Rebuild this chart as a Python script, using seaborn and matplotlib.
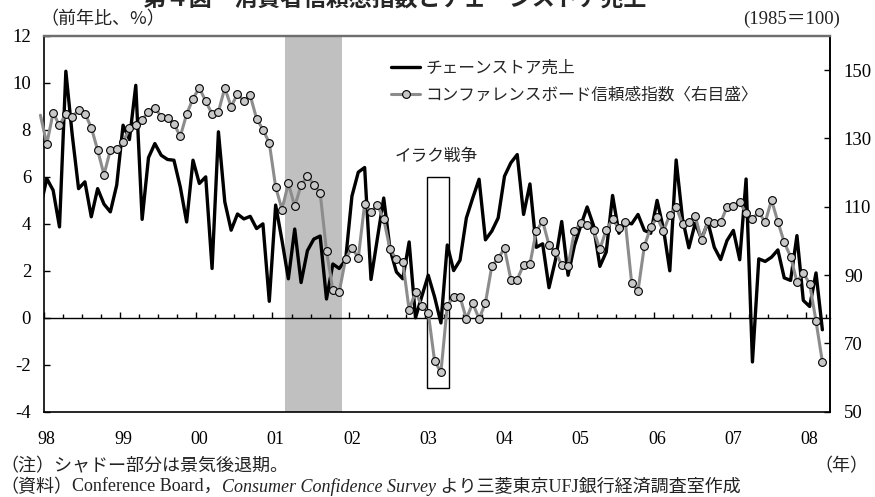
import numpy as np
import pandas as pd
import matplotlib
matplotlib.use("Agg")
import matplotlib.pyplot as plt
import seaborn as sns
from matplotlib.patches import Rectangle
from matplotlib.lines import Line2D

# ---------------- data ----------------
months = pd.period_range("1997-12", "2008-03", freq="M")
year_labels = ["98", "99", "00", "01", "02", "03", "04", "05", "06", "07", "08"]

# チェーンストア売上（前年比、%）
chain_store = [4.7,
    5.93, 5.43, 3.87, 10.5, 7.8, 5.5, 5.79, 4.3, 5.5, 4.84, 4.51, 5.65,
    8.2, 7.59, 9.9, 4.19, 6.82, 7.42, 6.92, 6.74, 6.71, 5.57, 4.08, 6.71,
    5.72, 6.0, 2.1, 7.92, 4.94, 3.73, 4.42, 4.21, 4.32, 3.8, 4.0, 0.7,
    4.8, 3.29, 1.66, 3.78, 1.5, 2.86, 3.35, 3.48, 0.8, 2.29, 2.1, 2.45,
    5.18, 6.2, 6.4, 1.63, 3.37, 5.1, 2.91, 1.95, 1.66, 3.23, 0.0, 0.92,
    1.81, 0.89, -0.22, 3.1, 2.01, 2.45, 4.25, 5.1, 5.9, 3.32, 3.69, 4.25,
    6.03, 6.6, 6.95, 4.4, 5.7, 3.0, 3.15, 1.28, 2.44, 4.1, 1.81, 3.08,
    3.93, 4.72, 3.93, 2.19, 2.8, 5.21, 3.6, 4.07, 4.0, 4.4, 3.72, 3.6,
    5.0, 3.79, 2.0, 6.72, 4.21, 2.98, 4.03, 3.36, 4.07, 3.0, 2.48, 3.29,
    3.72, 2.47, 5.91, -1.88, 2.51, 2.4, 2.58, 2.89, 1.7, 1.59, 3.5, 0.74,
    0.48, 1.91, -0.51]

# コンファレンスボード信頼感指数（1985=100、右目盛）
confidence = [136.8,
    128.4, 137.5, 133.8, 137.3, 136.3, 138.3, 137.3, 133.2, 126.6, 119.4, 126.6, 126.9,
    128.9, 133.0, 134.0, 135.5, 137.8, 139.0, 136.4, 136.0, 134.3, 130.6, 137.1, 141.7,
    144.8, 140.9, 137.2, 137.8, 144.8, 139.3, 143.1, 140.9, 142.6, 135.8, 132.6, 128.7,
    115.8, 109.2, 116.9, 110.1, 116.3, 119.0, 116.5, 114.1, 97.1, 85.6, 85.1, 94.7,
    98.0, 95.1, 110.8, 108.5, 110.5, 106.4, 97.5, 94.7, 93.8, 79.8, 85.1, 80.9,
    79.0, 64.9, 61.6, 81.0, 83.7, 83.6, 77.2, 81.8, 77.2, 81.8, 92.6, 94.9,
    97.8, 88.7, 88.7, 93.0, 93.2, 102.9, 105.8, 98.8, 96.9, 92.9, 92.6, 102.9,
    105.3, 104.8, 103.2, 97.6, 103.2, 106.3, 103.7, 105.6, 87.7, 85.4, 98.5, 104.0,
    106.9, 102.9, 107.6, 110.0, 104.9, 105.4, 107.3, 100.2, 105.9, 105.3, 105.4, 110.0,
    110.2, 111.3, 108.2, 106.4, 108.5, 105.4, 112.0, 105.6, 99.6, 95.4, 88.0, 90.7,
    87.4, 76.5, 64.6]

recession = ("2001-03", "2001-11")
iraq_war = ("2003-01", "2003-05")

label_chain = "チェーンストア売上"
label_conf = "コンファレンスボード信頼感指数〈右目盛〉"

# ---------------- helpers ----------------
def mpos(p):
    p = pd.Period(p, freq="M")
    return (p.year - 1998) * 12 + (p.month - 1)

df = pd.DataFrame({
    "pos": [mpos(m) + 0.5 for m in months],
    "chain": chain_store,
    "conf": confidence,
})

sns.set_theme(style="white")
plt.rcParams["font.family"] = ["Liberation Serif", "Noto Sans CJK JP"]
plt.rcParams["axes.unicode_minus"] = False
CJK = ["Noto Sans CJK JP", "DejaVu Sans"]
MIX = ["Liberation Serif", "Noto Sans CJK JP"]

W, H = 875, 497
fig = plt.figure(figsize=(W / 100, H / 100), dpi=100)
L, R, T, B = 43.6, 830, 36, 411.7
ax = fig.add_axes([L / W, 1 - B / H, (R - L) / W, (B - T) / H])

# recession shading
ax.axvspan(mpos(recession[0]), mpos(recession[1]) + 1, color="#c0c0c0", lw=0, zorder=0)

sns.lineplot(data=df, x="pos", y="chain", ax=ax, color="black", lw=2.4,
             zorder=3, legend=False)

ax.set_xlim(0, 123.7)
ax.set_ylim(-4, 12)
ax.set_yticks(np.arange(-4, 13, 2))
ax.set_xticks(np.arange(len(year_labels)) * 12 + 0.5)
ax.set_xticklabels(year_labels)
ax.set_xlabel("")
ax.set_ylabel("")
ax.tick_params(axis="x", length=0, pad=14, labelsize=13, colors="black")
ax.tick_params(axis="y", direction="in", length=4, width=1, pad=9,
               labelsize=13.5, colors="black", left=True)

# Iraq war box
x0 = mpos(iraq_war[0]) + 0.35
x1 = mpos(iraq_war[1]) - 0.25
ax.add_patch(Rectangle((x0, -3), x1 - x0, 9, fill=False, ec="black", lw=1.0, zorder=4))
ax.text((x0 + x1) / 2 - 0.3, 6.85, "イラク戦争", ha="center", va="center",
        fontsize=12, family=CJK, color="#222222")

# zero line with quarter ticks
sec = ax.secondary_xaxis(4 / 16)
sec.set_xticks(np.arange(0, 124, 12))
sec.set_xticks(np.arange(0, 124, 3), minor=True)
sec.tick_params(which="major", direction="in", length=4.3, width=1, labelbottom=False, colors="black")
sec.tick_params(which="minor", direction="in", length=2.9, width=1, labelbottom=False, colors="black")
sec.set_xticklabels([])
sec.spines["bottom"].set_color("black")
sec.spines["bottom"].set_linewidth(1.0)

# right axis
ax2 = ax.twinx()
sns.lineplot(data=df, x="pos", y="conf", ax=ax2, color="#8c8c8c", lw=2.2,
             marker="o", markersize=5.6, markerfacecolor="#c8c8c8",
             markeredgecolor="black", markeredgewidth=0.8,
             markevery=list(range(1, len(df))), clip_on=False, legend=False, zorder=3)
ax2.set_ylim(50, 160)
ax2.set_yticks(np.arange(50, 151, 20))
ax2.set_ylabel("")
ax2.set_xlim(0, 123.7)
ax2.tick_params(axis="y", direction="in", length=4, width=1, pad=10,
                labelsize=13.5, colors="black", right=True)

for a in (ax, ax2):
    for s in a.spines.values():
        s.set_linewidth(1.2)
        s.set_color("black")
    a.spines["top"].set_color("#6e6e6e")
    a.spines["top"].set_linewidth(1.6)
ax2.spines["left"].set_visible(False)
ax2.spines["bottom"].set_visible(False)

# legend
handles = [
    Line2D([], [], color="black", lw=2.4),
    Line2D([], [], color="#8c8c8c", lw=2.2, marker="o", markersize=5.6,
           markerfacecolor="#c8c8c8", markeredgecolor="black", markeredgewidth=0.8),
]
ax2.legend(handles, [label_chain, label_conf], loc="upper left",
           bbox_to_anchor=(391 / W, 1 - 60 / H), bbox_transform=fig.transFigure,
           frameon=False, prop={"family": CJK, "size": 12},
           handlelength=1.75, handletextpad=0.3, labelspacing=0.6,
           borderpad=0, borderaxespad=0)

# texts (title is partly cut off at the top edge, as in the reference)
fig.text(395 / W, 1.0, "第４図　消費者信頼感指数とチェーンストア売上",
         ha="center", va="center", fontsize=16.5, fontweight="bold", family=CJK)
fig.text(40 / W, 1 - 19 / H, "（前年比、%）", ha="left", va="center",
         fontsize=13, family=CJK, color="#222222")
fig.text(840 / W, 1 - 19 / H, "(1985＝100)", ha="right", va="center",
         fontsize=13.5, family=MIX, color="#222222")
fig.text(0 / W, 1 - 466 / H, "（注）シャドー部分は景気後退期。", ha="left", va="center",
         fontsize=13, family=CJK, color="#222222")
fig.text(868 / W, 1 - 466 / H, "（年）", ha="right", va="center",
         fontsize=13, family=CJK, color="#222222")

renderer = fig.canvas.get_renderer()
pieces = [
    ("（資料）", CJK, "normal"),
    ("Conference Board，", MIX, "normal"),
    ("Consumer Confidence Survey", ["Liberation Serif"], "italic"),
    (" より三菱東京UFJ銀行経済調査室作成", MIX, "normal"),
]
xpix = 0
for txt, fam, style in pieces:
    t = fig.text(xpix / W, 1 - 487.5 / H, txt, ha="left", va="center", fontsize=13,
                 family=fam, style=style, color="#222222")
    bb = t.get_window_extent(renderer=renderer)
    xpix = bb.x1

fig.savefig("out.png", dpi=100)
